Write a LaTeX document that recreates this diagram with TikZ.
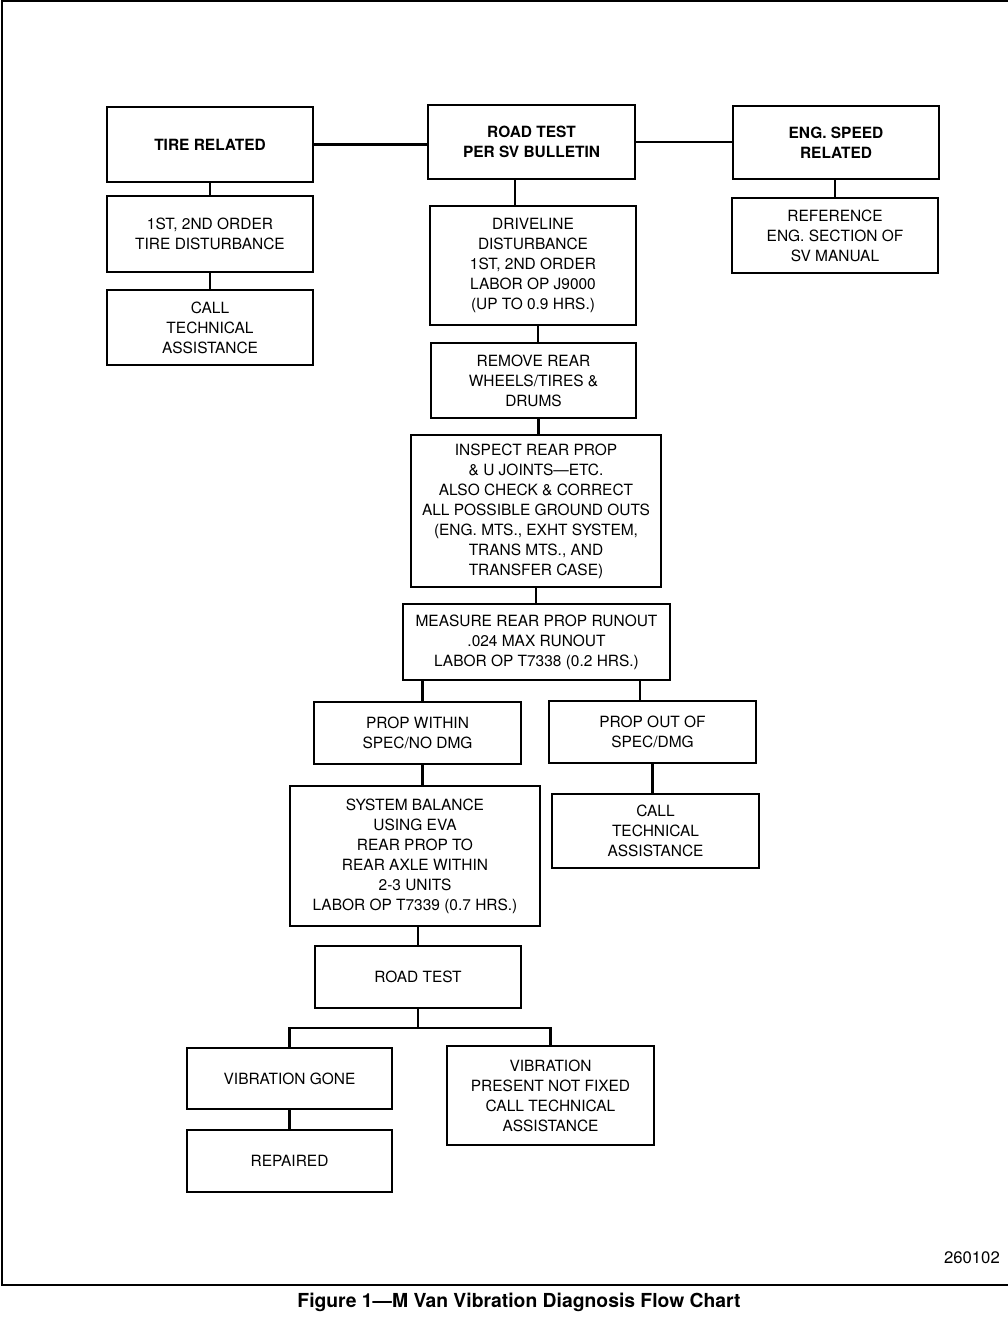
\documentclass[tikz,border=0pt]{standalone}
\usepackage{fontspec}
\setmainfont{TeX Gyre Heros}
\usetikzlibrary{positioning,calc}

\begin{document}
\begin{tikzpicture}[
    flowbox/.style={rectangle, draw, line width=1.1pt, align=center,
                    inner sep=0pt, minimum width=4.12cm, minimum height=1.5cm,
                    font=\fontsize{8.8}{11.4}\selectfont},
    headbox/.style={flowbox, font=\fontsize{8.8}{11.4}\selectfont\bfseries},
    link/.style={line width=1.3pt}
]
\useasboundingbox (0,0) rectangle (20.16,-26.56);

% Frame
\draw[line width=1.3pt] (20.2,-0.02) -| (0.04,-25.70) -- (20.2,-25.70);

% Top row
\node[headbox] (tire) at (4.20,-2.89) {TIRE RELATED};
\node[headbox, minimum width=4.14cm, minimum height=1.48cm] (road) at (10.63,-2.84) {ROAD TEST\\PER SV BULLETIN};
\node[headbox, minimum height=1.46cm] (eng) at (16.72,-2.85) {ENG. SPEED\\RELATED};

% Left column
\node[flowbox, minimum height=1.52cm] (tiredist) at (4.20,-4.68) {1ST, 2ND ORDER\\TIRE DISTURBANCE};
\node[flowbox] (calltire) at (4.20,-6.55) {CALL\\TECHNICAL\\ASSISTANCE};

% Right column
\node[flowbox] (engref) at (16.70,-4.71) {REFERENCE\\ENG. SECTION OF\\SV MANUAL};

% Driveline path
\node[flowbox, minimum height=2.38cm] (driveline) at (10.66,-5.31) {DRIVELINE\\DISTURBANCE\\1ST, 2ND ORDER\\LABOR OP J9000\\(UP TO 0.9 HRS.)};
\node[flowbox, minimum width=4.10cm] (remove) at (10.67,-7.61) {REMOVE REAR\\WHEELS/TIRES \&\\DRUMS};
\node[flowbox, minimum width=5.00cm, minimum height=3.04cm] (inspect) at (10.72,-10.22) {INSPECT REAR PROP\\\& U JOINTS---ETC.\\ALSO CHECK \& CORRECT\\ALL POSSIBLE GROUND OUTS\\(ENG. MTS., EXHT SYSTEM,\\TRANS MTS., AND\\TRANSFER CASE)};
\node[flowbox, minimum width=5.34cm, minimum height=1.52cm] (measure) at (10.73,-12.84) {MEASURE REAR PROP RUNOUT\\.024 MAX RUNOUT\\LABOR OP T7338 (0.2 HRS.)};

% Runout branches
\node[flowbox, minimum width=4.14cm, minimum height=1.24cm] (within) at (8.35,-14.66) {PROP WITHIN\\SPEC/NO DMG};
\node[flowbox, minimum width=4.14cm, minimum height=1.24cm] (outspec) at (13.05,-14.64) {PROP OUT OF\\SPEC/DMG};
\node[flowbox, minimum width=4.14cm, minimum height=1.48cm] (callprop) at (13.11,-16.62) {CALL\\TECHNICAL\\ASSISTANCE};
\node[flowbox, minimum width=5.00cm, minimum height=2.80cm] (balance) at (8.30,-17.12) {SYSTEM BALANCE\\USING EVA\\REAR PROP TO\\REAR AXLE WITHIN\\2-3 UNITS\\LABOR OP T7339 (0.7 HRS.)};
\node[flowbox, minimum height=1.24cm] (roadtest) at (8.36,-19.54) {ROAD TEST};

% Results
\node[flowbox, minimum width=4.10cm, minimum height=1.22cm] (gone) at (5.79,-21.57) {VIBRATION GONE};
\node[flowbox, minimum width=4.14cm, minimum height=1.98cm] (present) at (11.01,-21.91) {VIBRATION\\PRESENT NOT FIXED\\CALL TECHNICAL\\ASSISTANCE};
\node[flowbox, minimum width=4.10cm, minimum height=1.24cm] (repaired) at (5.79,-23.22) {REPAIRED};
\coordinate (split) at (8.36,-20.56);

% Connectors
\draw[link] (tire) -- (tire -| road.west);
\draw[link] (road.east) -- (road.east -| eng.west);
\draw[link] (tire.south) -- (tire.south |- tiredist.north);
\draw[link] (tiredist.south) -- (tiredist.south |- calltire.north);
\draw[link] ([xshift=-0.02cm]eng.south) -- ([xshift=-0.02cm]eng.south |- engref.north);
\draw[link] ([xshift=-0.33cm]road.south) -- ([xshift=-0.33cm]road.south |- driveline.north);
\draw[link] ([xshift=0.1cm]driveline.south) -- ([xshift=0.1cm]driveline.south |- remove.north);
\draw[link] ([xshift=0.1cm]remove.south) -- ([xshift=0.1cm]remove.south |- inspect.north);
\draw[link] (inspect.south) -- (inspect.south |- measure.north);
\draw[link] ([xshift=0.1cm]within.north) -- ([xshift=0.1cm]within.north |- measure.south);
\draw[link] ([xshift=-0.25cm]outspec.north) -- ([xshift=-0.25cm]outspec.north |- measure.south);
\draw[link] (outspec.south) -- (outspec.south |- callprop.north);
\draw[link] ([xshift=0.1cm]within.south) -- ([xshift=0.1cm]within.south |- balance.north);
\draw[link] (roadtest.north) -- (roadtest.north |- balance.south);
\draw[link] (roadtest.south) -- (split);
\draw[link] (gone.north) |- (split) -| (present.north);
\draw[link] (gone.south) -- (gone.south |- repaired.north);

% Caption and figure number
\node[anchor=east, font=\fontsize{9.5}{11}\selectfont] (fignum) at (20.12,-25.16) {260102};
\node[font=\fontsize{11}{13}\selectfont\bfseries] (caption) at (10.38,-26.04) {Figure 1---M Van Vibration Diagnosis Flow Chart};

\end{tikzpicture}
\end{document}
